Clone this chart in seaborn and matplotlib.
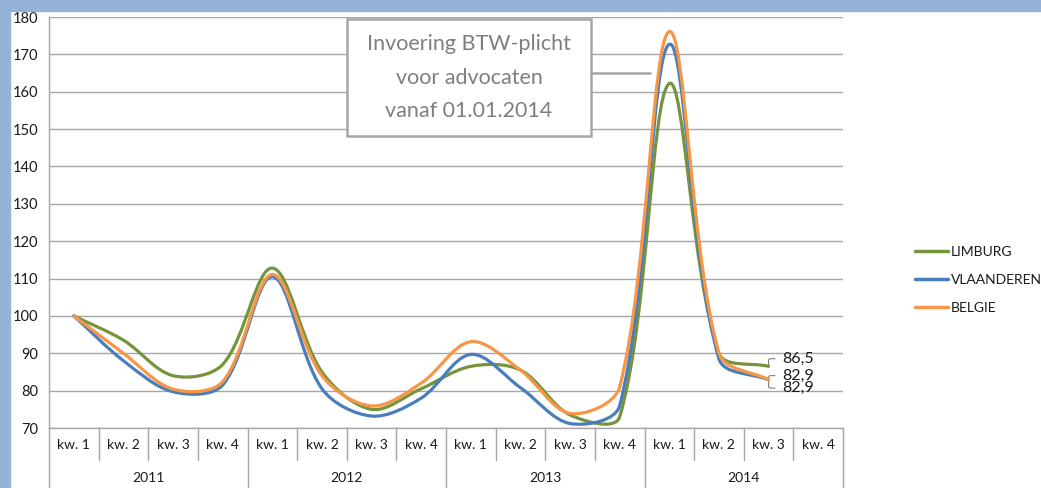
import numpy as np
import pandas as pd
import matplotlib.pyplot as plt
import matplotlib.transforms as mtransforms
from matplotlib.path import Path
from matplotlib.patches import PathPatch, Rectangle
from matplotlib.lines import Line2D
import seaborn as sns

# Data (index, 2011 kw. 1 = 100)
kwartalen = ["kw. 1", "kw. 2", "kw. 3", "kw. 4"] * 4
jaren = ["2011", "2012", "2013", "2014"]
limburg = [100, 93.5, 84, 87, 112.8, 85, 75, 80.5, 86.5, 85.5, 73.5, 73, 162.2, 90, 86.5]
vlaanderen = [100, 88, 79.7, 81.5, 110.5, 80.5, 73.2, 78, 89.7, 80.8, 71.2, 76, 172.7, 88.5, 82.9]
belgie = [100, 90, 80.4, 82.4, 111.1, 84, 75.9, 82, 93.1, 85.5, 73.9, 81, 176.1, 90, 82.9]
reeksen = ["LIMBURG", "VLAANDEREN", "BELGIE"]
kleuren = ["#77933C", "#4A7EBB", "#F79646"]
eindlabels = ["86,5", "82,9", "82,9"]
annotatie = "Invoering BTW-plicht\nvoor advocaten\nvanaf 01.01.2014"

sns.set_style("white")
plt.rcParams['font.family'] = ['Lato', 'DejaVu Sans']
grijs = "#A6A6A6"
tekst = "#1A1A1A"

fig = plt.figure(figsize=(10.41, 4.88), dpi=100)
# light blue frame at top and left
fig.patches.append(Rectangle((0, 1 - 11 / 488), 1, 11 / 488, transform=fig.transFigure,
                             color="#95B3D7", zorder=0))
fig.patches.append(Rectangle((0, 0), 10 / 1041, 1, transform=fig.transFigure,
                             color="#95B3D7", zorder=0))

ax = fig.add_axes([49 / 1041, 60 / 488, 794 / 1041, 411 / 488])
ax.set_xlim(-0.5, 15.5)
ax.set_ylim(70, 180)
ax.set_yticks(range(70, 181, 10))
ax.set_xticks([])
ax.yaxis.grid(True, color=grijs, lw=1.0)
ax.set_axisbelow(True)
for s in ["top", "right"]:
    ax.spines[s].set_visible(False)
for s in ["left", "bottom"]:
    ax.spines[s].set_color(grijs)
    ax.spines[s].set_linewidth(1.0)
ax.tick_params(axis="y", length=5, color=grijs, labelsize=10.5, labelcolor=tekst, pad=3)

# long table for seaborn
n = len(limburg)
df = pd.DataFrame({
    "pos": list(range(n)) * 3,
    "waarde": limburg + vlaanderen + belgie,
    "regio": [r for r in reeksen for _ in range(n)],
})
sns.lineplot(data=df, x="pos", y="waarde", hue="regio", hue_order=reeksen,
             palette=dict(zip(reeksen, kleuren)), legend=False, ax=ax, lw=0)
ax.set_xlabel("")
ax.set_ylabel("")
ax.set_xlim(-0.5, 15.5)
ax.set_ylim(70, 180)

# pixel scale, used for Excel-like smoothing
sx = 794 / 16
sy = 411 / 110


def gladde_curve(xs, ys, k=1 / 3):
    P = np.column_stack([xs, ys]).astype(float)
    S = P * [sx, sy]
    m = len(P)
    verts = [P[0]]
    codes = [Path.MOVETO]
    for i in range(m - 1):
        i0 = max(i - 1, 0)
        i3 = min(i + 2, m - 1)
        d01 = np.hypot(*(S[i] - S[i0]))
        d12 = np.hypot(*(S[i + 1] - S[i]))
        d23 = np.hypot(*(S[i3] - S[i + 1]))
        c1 = P[i] + (P[i + 1] - P[i0]) * k * d12 / (d01 + d12)
        c2 = P[i + 1] - (P[i3] - P[i]) * k * d12 / (d12 + d23)
        verts += [c1, c2, P[i + 1]]
        codes += [Path.CURVE4] * 3
    return Path(verts, codes)


lijnen = list(ax.lines)
for z, (lijn, kleur) in enumerate(zip(lijnen, kleuren)):
    xs, ys = lijn.get_xdata(), lijn.get_ydata()
    ax.add_patch(PathPatch(gladde_curve(xs, ys), fc="none", ec=kleur, lw=2.3,
                           capstyle="round", joinstyle="round", zorder=3 + z))
    lijn.remove()

# end value labels with small leader lines
offsets = [(10, 5.5), (10, 3), (10, -6)]
for reeks, label, (dx, dy) in zip([limburg, belgie, vlaanderen], eindlabels, offsets):
    ax.annotate(label, xy=(n - 1, reeks[-1]), xytext=(dx, dy), textcoords="offset points",
                ha="left", va="center", fontsize=11.5, color=tekst,
                arrowprops=dict(arrowstyle="-", color="#7F7F7F", lw=0.8, shrinkA=3, shrinkB=1,
                                connectionstyle="angle,angleA=0,angleB=90,rad=2"))

# category table under the axis
blend = mtransforms.blended_transform_factory(ax.transData, ax.transAxes)
for i, kw in enumerate(kwartalen):
    ax.text(i, -0.041, kw, transform=blend, ha="center", va="center", fontsize=10, color=tekst)
for j, jaar in enumerate(jaren):
    ax.text(4 * j + 1.5, -0.122, jaar, transform=blend, ha="center", va="center",
            fontsize=10, color=tekst)
for i in range(16):
    grens = i % 4 == 0
    ax.plot([i - 0.5, i - 0.5], [0, -0.146 if grens else -0.078], transform=blend,
            color=grijs, lw=1.0, clip_on=False)
ax.plot([15.5, 15.5], [0, -0.146], transform=blend, color=grijs, lw=1.0, clip_on=False)

# annotation box
ax.add_patch(Rectangle((0.3753, 0.7105), 0.3073, 0.2847, transform=ax.transAxes,
                       fc="white", ec=grijs, lw=1.8, zorder=6))
ax.text(0.529, 0.852, annotatie, transform=ax.transAxes, ha="center", va="center",
        fontsize=15.5, color="#7F7F7F", linespacing=1.85, zorder=7)
ax.plot([0.6826, 0.757], [0.8638, 0.8638], transform=ax.transAxes, color=grijs, lw=1.8, zorder=6)

# legend
handles = [Line2D([], [], color=c, lw=2.5) for c in kleuren]
fig.legend(handles, reeksen, loc="center left", bbox_to_anchor=(915 / 1041, 1 - 280 / 488),
           frameon=False, fontsize=10, handlelength=2.4, handletextpad=0.2,
           labelspacing=1.15, borderpad=0, borderaxespad=0, labelcolor=tekst)

fig.savefig("out.png", dpi=100, facecolor="white")
